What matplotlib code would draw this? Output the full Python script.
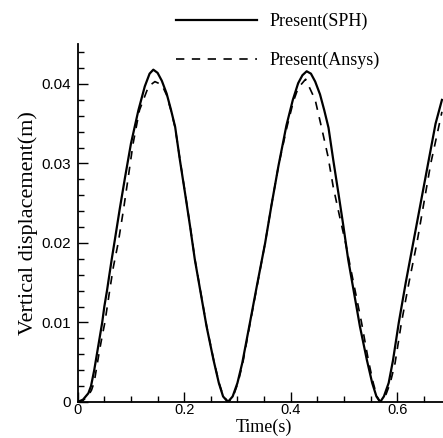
import matplotlib
matplotlib.use("Agg")
import matplotlib.pyplot as plt
from matplotlib.ticker import MultipleLocator

# --- data ---
t_sph = [0.000, 0.010, 0.020, 0.025, 0.031, 0.036, 0.041, 0.046, 0.050, 0.055,
         0.059, 0.064, 0.070, 0.079, 0.089, 0.100, 0.114, 0.126, 0.135, 0.142,
         0.150, 0.158, 0.167, 0.175, 0.183, 0.192, 0.2015, 0.211, 0.220, 0.231,
         0.242, 0.255, 0.265, 0.273, 0.282, 0.291, 0.300, 0.309, 0.3235, 0.337,
         0.352, 0.364, 0.377, 0.392, 0.404, 0.414, 0.422, 0.430, 0.438, 0.446,
         0.455, 0.463, 0.471, 0.480, 0.4895, 0.499, 0.508, 0.519, 0.530, 0.543,
         0.553, 0.561, 0.568, 0.575, 0.584, 0.592, 0.603, 0.616, 0.630, 0.644,
         0.658, 0.672, 0.684]
y_sph = [0.0000, 0.0003, 0.0011, 0.0020, 0.0040, 0.0060, 0.0080, 0.0100, 0.0120, 0.0140,
         0.0158, 0.0180, 0.0205, 0.0243, 0.0283, 0.0325, 0.0367, 0.0397, 0.0413, 0.0418,
         0.0414, 0.0404, 0.0388, 0.0368, 0.0346, 0.0304, 0.0263, 0.0221, 0.0179, 0.0137,
         0.0095, 0.0053, 0.0024, 0.0007, 0.0000, 0.0007, 0.0024, 0.0049, 0.0100, 0.0148,
         0.0200, 0.0248, 0.0297, 0.0348, 0.0380, 0.0401, 0.0411, 0.0416, 0.0413, 0.0403,
         0.0387, 0.0367, 0.0345, 0.0304, 0.0263, 0.0221, 0.0179, 0.0137, 0.0095, 0.0053,
         0.0024, 0.0007, 0.0000, 0.0007, 0.0024, 0.0052, 0.0100, 0.0150, 0.0200, 0.0250,
         0.0300, 0.0350, 0.0380]

t_ansys = [0.000, 0.010, 0.020, 0.026, 0.031, 0.036, 0.041, 0.046, 0.051, 0.060,
           0.067, 0.076, 0.086, 0.095, 0.104, 0.116, 0.133, 0.145, 0.158, 0.167,
           0.175, 0.183, 0.192, 0.2015, 0.211, 0.220, 0.231, 0.242, 0.255, 0.265,
           0.273, 0.283, 0.292, 0.301, 0.310, 0.324, 0.338, 0.352, 0.364, 0.377,
           0.393, 0.405, 0.414, 0.428, 0.446, 0.458, 0.470, 0.480, 0.491, 0.503,
           0.518, 0.533, 0.546, 0.555, 0.562, 0.568, 0.577, 0.587, 0.596, 0.608,
           0.622, 0.637, 0.650, 0.663, 0.676, 0.684]
y_ansys = [0.0000, 0.0002, 0.0008, 0.0015, 0.0025, 0.0045, 0.0065, 0.0083, 0.0100, 0.0140,
           0.0170, 0.0200, 0.0242, 0.0283, 0.0325, 0.0367, 0.0397, 0.0403, 0.0399, 0.0386,
           0.0367, 0.0345, 0.0305, 0.0264, 0.0222, 0.0180, 0.0138, 0.0096, 0.0054, 0.0025,
           0.0008, 0.0000, 0.0007, 0.0024, 0.0049, 0.0100, 0.0150, 0.0200, 0.0248, 0.0297,
           0.0346, 0.0378, 0.0395, 0.0406, 0.0380, 0.0345, 0.0309, 0.0270, 0.0236, 0.0200,
           0.0150, 0.0100, 0.0052, 0.0024, 0.0007, 0.0000, 0.0006, 0.0024, 0.0049, 0.0100,
           0.0150, 0.0200, 0.0250, 0.0300, 0.0340, 0.0365]

xticks = [0, 0.2, 0.4, 0.6]
xtick_labels = ['0', '0.2', '0.4', '0.6']
yticks = [0, 0.01, 0.02, 0.03, 0.04]
ytick_labels = ['0', '0.01', '0.02', '0.03', '0.04']

serif = ['Liberation Serif', 'DejaVu Serif']
sans = ['Liberation Sans', 'DejaVu Sans']

fig = plt.figure(figsize=(4.43, 4.38), dpi=100)
ax = fig.add_axes([0.1754, 0.0822, 0.8246, 0.8168])

ax.plot(t_sph, y_sph, color='black', lw=1.6, label='Present(SPH)')
ax.plot(t_ansys, y_ansys, color='black', lw=1.2, linestyle=(0, (5.0, 4.5)),
        label='Present(Ansys)')

ax.set_xlim(0, 0.686)
ax.set_ylim(0, 0.045)

for s in ['top', 'right']:
    ax.spines[s].set_visible(False)
for s in ['left', 'bottom']:
    ax.spines[s].set_linewidth(1.3)

ax.set_xticks(xticks)
ax.set_xticklabels(xtick_labels, family=sans, fontsize=10.5)
ax.set_yticks(yticks)
ax.set_yticklabels(ytick_labels, family=sans, fontsize=11)
ax.xaxis.set_minor_locator(MultipleLocator(0.05))
ax.yaxis.set_minor_locator(MultipleLocator(0.002))
ax.tick_params(which='major', direction='in', length=7, width=1.0)
ax.tick_params(which='minor', direction='in', length=4, width=1.0)
ax.tick_params(axis='x', which='major', pad=0.5)
ax.tick_params(axis='y', which='major', pad=5)

ax.set_xlabel('Time(s)', family=serif, fontsize=13)
ax.xaxis.set_label_coords(0.51, -0.047)
ax.set_ylabel('Vertical displacement(m)', family=serif, fontsize=16, labelpad=2)

fig.legend(loc='upper left', bbox_to_anchor=(176 / 443, 1 - 13 / 438),
           frameon=False, prop={'family': serif, 'size': 13},
           handlelength=4.5, handletextpad=0.7, labelspacing=1.2,
           borderpad=0, borderaxespad=0)

fig.savefig('out.png', dpi=100)
